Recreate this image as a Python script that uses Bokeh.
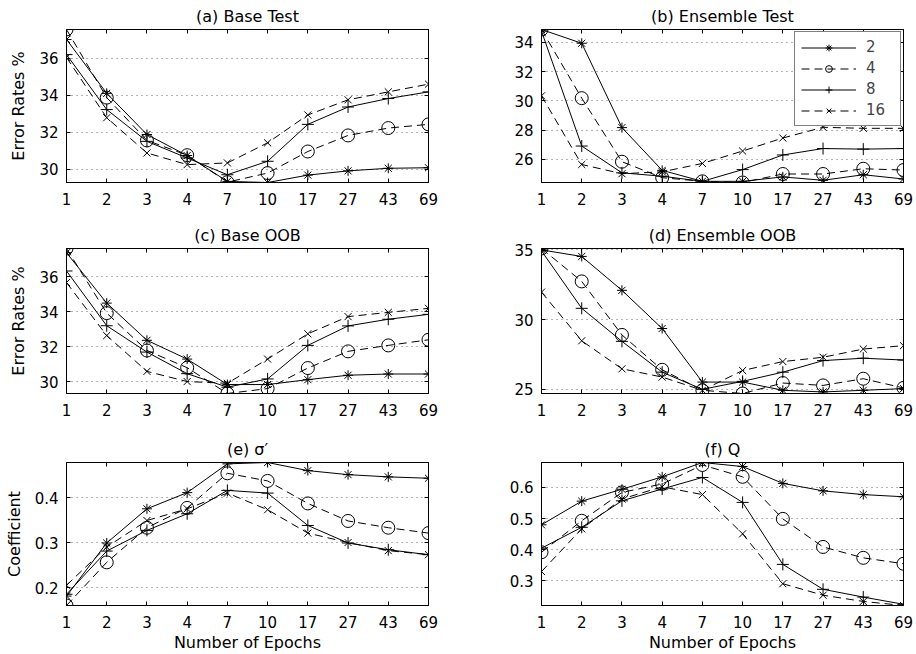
from bokeh.plotting import figure
from bokeh.layouts import column, row
from bokeh.models import Range1d, FixedTicker, LinearAxis, Legend, LegendItem
from bokeh.embed import file_html
from bokeh.resources import INLINE

# ---------------- data ----------------
epochs = ["1", "2", "3", "4", "7", "10", "17", "27", "43", "69"]
series_names = ["2", "4", "8", "16"]

# (a) Base Test
a_2 = [37.02, 34.10, 31.87, 30.73, 29.33, 29.27, 29.67, 29.90, 30.04, 30.07]
a_4 = [37.56, 33.87, 31.55, 30.75, 29.29, 29.78, 30.95, 31.82, 32.22, 32.42]
a_8 = [36.20, 33.22, 31.50, 30.60, 29.69, 30.42, 32.42, 33.36, 33.82, 34.18]
a_16 = [36.05, 32.78, 30.87, 30.24, 30.33, 31.42, 32.93, 33.75, 34.18, 34.60]

# (b) Ensemble Test
b_2 = [34.87, 33.93, 28.17, 25.25, 24.50, 24.50, 24.80, 24.57, 24.95, 24.66]
b_4 = [34.87, 30.18, 25.84, 24.75, 24.50, 24.42, 25.00, 25.00, 25.36, 25.27]
b_8 = [34.76, 26.91, 25.08, 24.85, 24.50, 25.30, 26.30, 26.74, 26.70, 26.74]
b_16 = [30.34, 25.65, 25.02, 25.15, 25.72, 26.57, 27.46, 28.19, 28.12, 28.12]

# (c) Base OOB
c_2 = [37.36, 34.49, 32.37, 31.30, 29.85, 29.85, 30.13, 30.38, 30.45, 30.45]
c_4 = [37.60, 33.92, 31.79, 30.81, 29.34, 29.62, 30.79, 31.74, 32.08, 32.40]
c_8 = [36.32, 33.20, 31.70, 30.47, 29.70, 30.17, 32.08, 33.19, 33.57, 33.85]
c_16 = [35.66, 32.64, 30.60, 30.02, 29.92, 31.30, 32.74, 33.72, 33.96, 34.19]

# (d) Ensemble OOB
d_2 = [35.00, 34.53, 32.10, 29.36, 25.52, 25.52, 24.93, 24.81, 24.93, 25.05]
d_4 = [35.10, 32.74, 28.90, 26.40, 24.93, 24.70, 25.45, 25.28, 25.76, 25.10]
d_8 = [34.93, 30.81, 28.44, 26.23, 25.00, 25.57, 26.23, 27.06, 27.23, 27.10]
d_16 = [31.97, 28.48, 26.47, 25.88, 24.93, 26.35, 26.99, 27.30, 27.89, 28.13]

# (e) sigma'
e_2 = [0.181, 0.299, 0.375, 0.411, 0.475, 0.478, 0.460, 0.451, 0.446, 0.443]
e_4 = [0.160, 0.256, 0.333, 0.377, 0.454, 0.437, 0.387, 0.348, 0.333, 0.321]
e_8 = [0.185, 0.281, 0.327, 0.364, 0.416, 0.410, 0.338, 0.299, 0.284, 0.273]
e_16 = [0.205, 0.290, 0.349, 0.375, 0.410, 0.373, 0.321, 0.300, 0.282, 0.273]

# (f) Q
f_2 = [0.480, 0.556, 0.594, 0.634, 0.680, 0.667, 0.613, 0.589, 0.577, 0.570]
f_4 = [0.392, 0.493, 0.584, 0.611, 0.672, 0.634, 0.499, 0.409, 0.374, 0.355]
f_8 = [0.405, 0.472, 0.557, 0.595, 0.632, 0.552, 0.353, 0.273, 0.248, 0.225]
f_16 = [0.330, 0.467, 0.563, 0.602, 0.577, 0.451, 0.291, 0.254, 0.234, 0.221]

yticks_a = [30, 32, 34, 36]
yticks_b = [26, 28, 30, 32, 34]
yticks_c = [30, 32, 34, 36]
yticks_d = [25, 30, 35]
yticks_e = [0.2, 0.3, 0.4]
yticks_f = [0.3, 0.4, 0.5, 0.6]

# ---------------- style ----------------
FONT = "DejaVu Sans"
TICK_FS = "15px"
LABEL_FS = "16px"
TITLE_FS = "16px"
MARKERS = ["asterisk", "circle", "cross", "x"]
MSIZES = [10, 13, 12, 10]
DASHES = ["solid", "8 5", "solid", "8 5"]

ML = [66, 71]
MR = [42, 12]
MT = [29, 36, 39]
MB = [30, 30, 47]
FH = [153, 145, 143]


def make_panel(title, data, yticks, col, rw, ylabel=None, xlabel=None, legend=False):
    xs = list(range(1, len(epochs) + 1))
    allv = [v for s in data for v in s]
    p = figure(frame_width=362, frame_height=FH[rw], output_backend="svg",
               toolbar_location=None,
               x_range=Range1d(1, len(epochs)),
               y_range=Range1d(min(allv), max(allv)),
               min_border_left=ML[col], min_border_right=MR[col],
               min_border_top=MT[rw], min_border_bottom=MB[rw],
               background_fill_color="white", border_fill_color="white")
    p.outline_line_color = "black"
    p.outline_line_width = 1

    p.title.text = title
    p.title.align = "center"
    p.title.text_font = FONT
    p.title.text_font_size = TITLE_FS
    p.title.text_font_style = "normal"
    p.title.text_color = "black"
    p.title.standoff = 8

    p.xaxis.ticker = FixedTicker(ticks=xs)
    p.xaxis.major_label_overrides = {i: lab for i, lab in zip(xs, epochs)}
    p.yaxis.ticker = FixedTicker(ticks=yticks)
    for ax in (p.xaxis, p.yaxis):
        ax.major_tick_in = 4
        ax.major_tick_out = 0
        ax.minor_tick_line_color = None
        ax.axis_line_color = "black"
        ax.major_tick_line_color = "black"
        ax.major_label_text_font = FONT
        ax.major_label_text_font_size = TICK_FS
        ax.major_label_text_color = "black"
        ax.major_label_standoff = 8
        ax.axis_label_text_font = FONT
        ax.axis_label_text_font_size = LABEL_FS
        ax.axis_label_text_font_style = "normal"
        ax.axis_label_text_color = "black"
    p.xaxis.major_label_standoff = 10
    p.xaxis.axis_label_standoff = 2
    p.yaxis.axis_label_standoff = 8
    if ylabel:
        p.yaxis.axis_label = ylabel
    if xlabel:
        p.xaxis.axis_label = xlabel

    top = LinearAxis(ticker=FixedTicker(ticks=xs), major_label_text_font_size="0px",
                     major_label_text_color=None, major_tick_in=4, major_tick_out=0,
                     major_label_standoff=0, minor_tick_line_color=None,
                     axis_line_color="black")
    right = LinearAxis(ticker=FixedTicker(ticks=yticks), major_label_text_font_size="0px",
                       major_label_text_color=None, major_tick_in=4, major_tick_out=0,
                       major_label_standoff=0, minor_tick_line_color=None,
                       axis_line_color="black")
    p.add_layout(top, "above")
    p.add_layout(right, "right")

    p.xgrid.visible = False
    p.ygrid.grid_line_color = "black"
    p.ygrid.grid_line_alpha = 0.6
    p.ygrid.grid_line_dash = "1 4"
    p.ygrid.grid_line_width = 1

    items = []
    for name, ys, m, ms, dash in zip(series_names, data, MARKERS, MSIZES, DASHES):
        lr = p.line(xs, ys, line_color="black", line_width=1, line_dash=dash)
        sr = p.scatter(xs, ys, marker=m, size=ms, line_color="black",
                       fill_color=None, line_width=1)
        items.append(LegendItem(label=name, renderers=[lr, sr]))
    if legend:
        lg = Legend(items=items, location="top_right", margin=2, padding=6,
                    spacing=3, label_height=17, glyph_height=17, glyph_width=55,
                    label_standoff=10, label_width=28,
                    label_text_font=FONT, label_text_font_size=TICK_FS,
                    border_line_color="black", border_line_width=1,
                    background_fill_color="white", background_fill_alpha=1)
        p.add_layout(lg)
    return p


pa = make_panel("(a) Base Test", [a_2, a_4, a_8, a_16], yticks_a, 0, 0, ylabel="Error Rates %")
pb = make_panel("(b) Ensemble Test", [b_2, b_4, b_8, b_16], yticks_b, 1, 0, legend=True)
pc = make_panel("(c) Base OOB", [c_2, c_4, c_8, c_16], yticks_c, 0, 1, ylabel="Error Rates %")
pd = make_panel("(d) Ensemble OOB", [d_2, d_4, d_8, d_16], yticks_d, 1, 1)
pe = make_panel("(e) σ′", [e_2, e_4, e_8, e_16], yticks_e, 0, 2, ylabel="Coefficient",
                xlabel="Number of Epochs")
pf = make_panel("(f) Q", [f_2, f_4, f_8, f_16], yticks_f, 1, 2, xlabel="Number of Epochs")

layout = column(row(pa, pb), row(pc, pd), row(pe, pf))
open("out.html", "w").write(file_html(layout, INLINE))
